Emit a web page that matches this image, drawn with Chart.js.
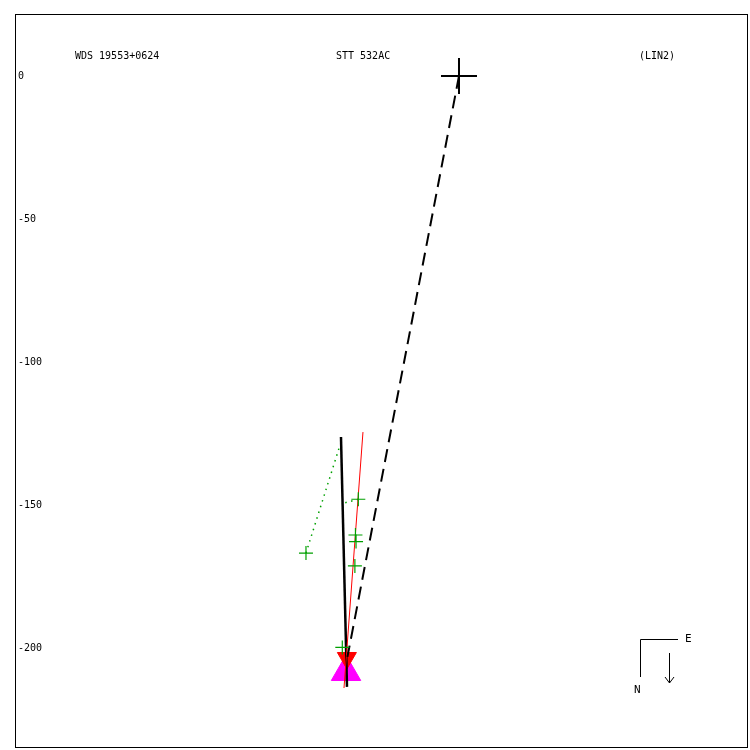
<!DOCTYPE html>
<html>
<head>
<meta charset="utf-8">
<script src="https://cdn.jsdelivr.net/npm/chart.js@4"></script>
<style>
html,body{margin:0;padding:0;background:#fff;}
canvas{display:block;}
</style>
</head>
<body>
<canvas id="c" width="750" height="750"></canvas>
<script>
// ---- data (arcsec-like units) ----
const headerTexts = ["WDS 19553+0624", "STT 532AC", "(LIN2)"];
const yTickValues = [0, -50, -100, -150, -200];
const xRange = [-155.24, 101.05];
const yRange = [-234.97, 21.68];

const primary = [{x: 0, y: 0}];
const dashedLine = [{x: 0, y: 0}, {x: -39.0, y: -203.1}];
const orbitBlack = [{x: -41.26, y: -126.2}, {x: -39.16, y: -213.6}];
const orbitRed = [{x: -33.57, y: -124.5}, {x: -40.21, y: -214.0}];
const observations = [
  {x: -53.5, y: -166.8},
  {x: -35.2, y: -148.0},
  {x: -36.2, y: -160.5},
  {x: -36.0, y: -162.8},
  {x: -36.4, y: -171.3},
  {x: -40.8, y: -199.8}
];
const ocLine1 = [{x: -53.5, y: -166.8}, {x: -41.8, y: -129.7}];
const ocLine2 = [{x: -35.2, y: -148.0}, {x: -40.2, y: -149.3}];
const redMark = [{x: -39.2, y: -203.5}];
const magentaMark = [{x: -39.5, y: -208.4}];

const FONT = "DejaVu Sans Mono";

const decor = {
  id: 'decor',
  afterDraw(chart) {
    const ctx = chart.ctx;
    const a = chart.chartArea;
    ctx.save();
    ctx.strokeStyle = '#000';
    ctx.lineWidth = 1;
    ctx.strokeRect(a.left + 0.5, a.top + 0.5, a.right - a.left - 1, a.bottom - a.top - 1);
    ctx.fillStyle = '#000';
    ctx.font = '10px "' + FONT + '"';
    ctx.textBaseline = 'middle';
    ctx.textAlign = 'left';
    ctx.fillText(headerTexts[0], 75, 56);
    ctx.fillText(headerTexts[1], 336, 56);
    ctx.fillText(headerTexts[2], 639, 56);
    // compass
    ctx.beginPath();
    ctx.moveTo(678, 639.5); ctx.lineTo(640.5, 639.5); ctx.lineTo(640.5, 677);
    ctx.moveTo(669.5, 653); ctx.lineTo(669.5, 683);
    ctx.moveTo(665, 677); ctx.lineTo(669.5, 683); ctx.lineTo(674, 677);
    ctx.stroke();
    ctx.font = '11px "' + FONT + '"';
    ctx.fillText('E', 685, 639);
    ctx.fillText('N', 634, 690);
    ctx.restore();
  }
};

new Chart(document.getElementById('c'), {
  type: 'scatter',
  data: {
    datasets: [
      {data: primary, pointStyle: 'cross', pointRadius: 18, borderColor: '#000', borderWidth: 2, showLine: false},
      {data: observations, pointStyle: 'cross', pointRadius: 7, borderColor: '#00a000', borderWidth: 1.2, showLine: false},
      {data: dashedLine, showLine: true, borderColor: '#000', borderWidth: 2, borderDash: [13, 7], pointRadius: 0},
      {data: orbitRed, showLine: true, borderColor: '#ff0000', borderWidth: 1, pointRadius: 0},
      {data: orbitBlack, showLine: true, borderColor: '#000', borderWidth: 2.5, pointRadius: 0},
      {data: ocLine1, showLine: true, borderColor: '#00a000', borderWidth: 1.5, borderDash: [1.5, 4.5], pointRadius: 0},
      {data: ocLine2, showLine: true, borderColor: '#00a000', borderWidth: 1.5, borderDash: [1.5, 4.5], pointRadius: 0},
      {data: redMark, pointStyle: 'triangle', rotation: 180, pointRadius: 11, backgroundColor: '#ff0000', borderColor: '#ff0000', borderWidth: 1, showLine: false},
      {data: magentaMark, pointStyle: 'triangle', pointRadius: 17, backgroundColor: '#ff00ff', borderColor: '#ff00ff', borderWidth: 1, showLine: false}
    ]
  },
  options: {
    responsive: false,
    animation: false,
    devicePixelRatio: 1,
    layout: {autoPadding: false, padding: {left: 15, top: 14, right: 2, bottom: 2}},
    plugins: {legend: {display: false}, tooltip: {enabled: false}, title: {display: false}},
    scales: {
      x: {type: 'linear', min: xRange[0], max: xRange[1], display: false},
      y: {
        type: 'linear', min: yRange[0], max: yRange[1],
        grid: {display: false, drawTicks: false},
        border: {display: false},
        afterBuildTicks: s => { s.ticks = yTickValues.map(v => ({value: v})); },
        afterFit: s => { s.width = 0; s.paddingTop = 0; s.paddingBottom = 0; s.paddingLeft = 0; s.paddingRight = 0; },
        ticks: {
          mirror: true, padding: 3, color: '#000',
          font: {family: FONT, size: 10},
          callback: v => String(v)
        }
      }
    }
  },
  plugins: [decor]
});
</script>
</body>
</html>
